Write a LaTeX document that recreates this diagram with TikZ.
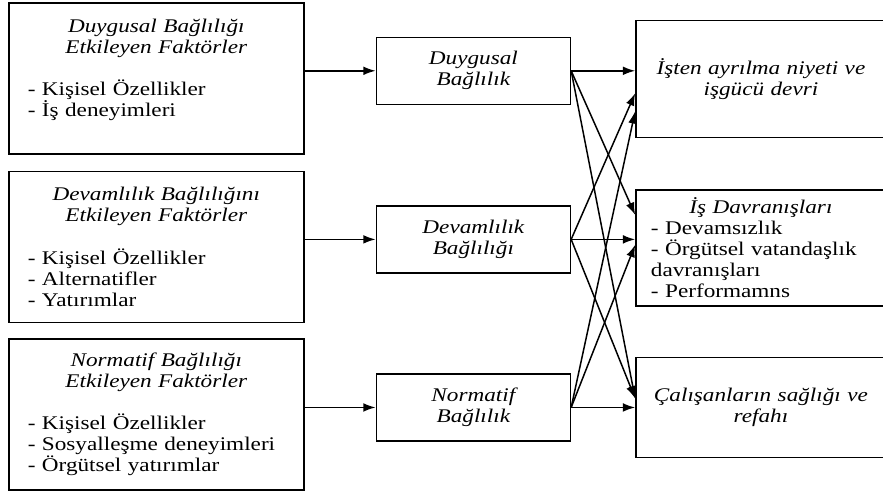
\documentclass[tikz,border=0pt]{standalone}
\usepackage{fontspec}
\setmainfont{Liberation Serif}[Scale=1.1,FakeStretch=1.2]
\usepackage{tikz}
\usetikzlibrary{arrows.meta,calc,positioning}
\tikzstyle{fakt}=[draw,line width=0.9pt,minimum width=5.9cm,minimum height=3.02cm,text width=5.14cm,inner xsep=0.38cm,align=left]
\tikzstyle{bag}=[draw,line width=0.9pt,minimum width=3.88cm,minimum height=1.34cm,align=center,font=\itshape]
\tikzstyle{sonuc}=[draw,line width=0.9pt,minimum width=5cm,text width=4.4cm,inner xsep=0.3cm,align=center]
\newcommand{\boxtitle}[1]{\makebox[\linewidth]{\itshape #1}}

\begin{document}
\begin{tikzpicture}[
            >={Latex[length=7pt,width=5pt]},
            line width=0.85pt
        ]
        \useasboundingbox (0,0) rectangle (17.66,-9.8);
        \node [fakt,anchor=north west] (f1) at (0.16,-0.04) {\boxtitle{Duygusal Bağlılığı}\\ \boxtitle{Etkileyen Faktörler}\\[12pt] - Kişisel Özellikler\\ - İş deneyimleri\\ \mbox{}};
        \node [fakt] (f2) [below=0.32cm of f1] {\boxtitle{Devamlılık Bağlılığını}\\ \boxtitle{Etkileyen Faktörler}\\[12pt] - Kişisel Özellikler\\ - Alternatifler\\ - Yatırımlar};
        \node [fakt] (f3) [below=0.3cm of f2] {\boxtitle{Normatif Bağlılığı}\\ \boxtitle{Etkileyen Faktörler}\\[12pt] - Kişisel Özellikler\\ - Sosyalleşme deneyimleri\\ - Örgütsel yatırımlar};
        \node [bag] (m1) [right=1.42cm of f1,yshift=0.15cm] {Duygusal\\ Bağlılık};
        \node [bag] (m2) [right=1.42cm of f2,yshift=0.15cm] {Devamlılık\\ Bağlılığı};
        \node [bag] (m3) [right=1.42cm of f3,yshift=0.14cm] {Normatif\\ Bağlılık};
        \node [sonuc,minimum height=2.34cm,font=\itshape] (o1) [right=1.28cm of m1,yshift=-0.16cm] {İşten ayrılma niyeti ve\\ işgücü devri};
        \node [sonuc,minimum height=2.32cm,align=left] (o2) [right=1.28cm of m2,yshift=-0.17cm] {\boxtitle{İş Davranışları}\\ - Devamsızlık\\ - Örgütsel vatandaşlık\\ davranışları\\ - Performamns};
        \node [sonuc,minimum height=2cm,font=\itshape] (o3) [right=1.28cm of m3] {Çalışanların sağlığı ve\\ refahı};
        \draw[->] (f1.east |- m1.west) -- (m1.west);
        \draw[->] (f2.east |- m2.west) -- (m2.west);
        \draw[->] (f3.east |- m3.west) -- (m3.west);
        \draw[->] (m1.east) -- (m1.east -| o1.west);
        \draw[->] (m1.east) -- ($(o2.west)+(0,0.66cm)$);
        \draw[->] (m1.east) -- ($(o3.west)+(0,0.18cm)$);
        \draw[->] (m2.east) -- ($(o1.west)+(0,-0.29cm)$);
        \draw[->] (m2.east) -- (m2.east -| o2.west);
        \draw[->] (m2.east) -- ($(o3.west)+(0,0.18cm)$);
        \draw[->] (m3.east) -- ($(o1.west)+(0,-0.65cm)$);
        \draw[->] (m3.east) -- ($(o2.west)+(0,0.06cm)$);
        \draw[->] (m3.east) -- (m3.east -| o3.west);
    \end{tikzpicture}
\end{document}
